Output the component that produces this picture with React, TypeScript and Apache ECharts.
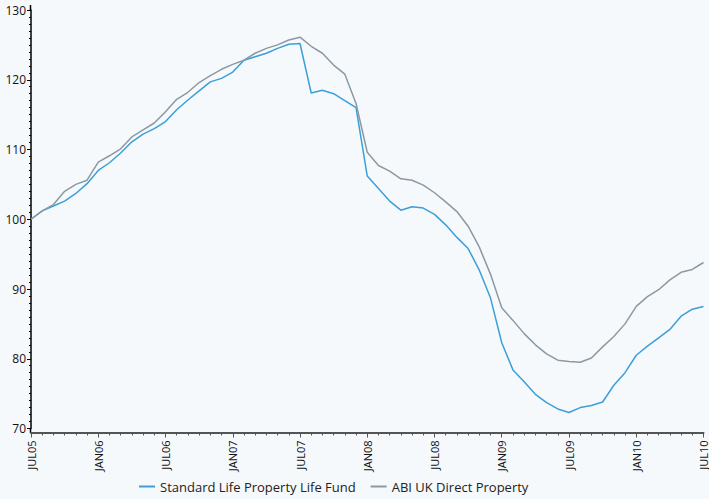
import React, { useEffect, useRef } from "react";
import * as echarts from "echarts";

const months = [
  "JUL05","AUG05","SEP05","OCT05","NOV05","DEC05",
  "JAN06","FEB06","MAR06","APR06","MAY06","JUN06",
  "JUL06","AUG06","SEP06","OCT06","NOV06","DEC06",
  "JAN07","FEB07","MAR07","APR07","MAY07","JUN07",
  "JUL07","AUG07","SEP07","OCT07","NOV07","DEC07",
  "JAN08","FEB08","MAR08","APR08","MAY08","JUN08",
  "JUL08","AUG08","SEP08","OCT08","NOV08","DEC08",
  "JAN09","FEB09","MAR09","APR09","MAY09","JUN09",
  "JUL09","AUG09","SEP09","OCT09","NOV09","DEC09",
  "JAN10","FEB10","MAR10","APR10","MAY10","JUN10",
  "JUL10",
];

const standardLife = [
  100, 101.2, 101.9, 102.6, 103.7, 105.1,
  107.0, 108.1, 109.5, 111.1, 112.2, 113.0,
  114.0, 115.7, 117.1, 118.4, 119.7, 120.2,
  121.1, 122.8, 123.3, 123.8, 124.5, 125.1,
  125.2, 118.1, 118.5, 118.0, 117.0, 116.0,
  106.2, 104.4, 102.6, 101.3, 101.8, 101.6,
  100.7, 99.2, 97.4, 95.8, 92.7, 88.7,
  82.3, 78.4, 76.7, 74.9, 73.7, 72.8,
  72.3, 73.0, 73.3, 73.8, 76.2, 78.0,
  80.5, 81.8, 83.0, 84.2, 86.1, 87.1,
  87.5,
];

const abiDirect = [
  100, 101.2, 102.1, 104.0, 105.0, 105.6,
  108.2, 109.1, 110.1, 111.8, 112.8, 113.8,
  115.4, 117.2, 118.2, 119.6, 120.6, 121.5,
  122.2, 122.8, 123.8, 124.5, 125.0, 125.7,
  126.1, 124.8, 123.8, 122.1, 120.8, 116.6,
  109.6, 107.7, 106.9, 105.8, 105.6, 104.9,
  103.8, 102.5, 101.1, 99.0, 96.0, 92.1,
  87.3, 85.5, 83.6, 82.0, 80.7, 79.8,
  79.6, 79.5, 80.1, 81.7, 83.2, 85.0,
  87.5, 88.9, 89.9, 91.3, 92.4, 92.8,
  93.8,
];

const seriesNames = ["Standard Life Property Life Fund", "ABI UK Direct Property"];
const yTicks = { min: 70, max: 130, interval: 10 };

export default function App() {
  const ref = useRef<HTMLDivElement>(null);

  useEffect(() => {
    document.body.style.margin = "0";
    document.body.style.background = "#f5f9fc";
    if (!ref.current) return;
    const chart = echarts.init(ref.current, undefined, { renderer: "svg" });
    const font = "'Open Sans', 'Noto Sans', sans-serif";
    chart.setOption({
      animation: false,
      backgroundColor: "#f5f9fc",
      grid: { left: 31, right: -1, top: 10, bottom: 70.5, containLabel: false },
      legend: {
        bottom: 1,
        left: 134,
        itemWidth: 16,
        itemHeight: 2,
        itemGap: 15,
        icon: "rect",
        textStyle: { fontFamily: font, fontSize: 13, color: "#222" },
        data: seriesNames,
      },
      xAxis: [
        {
          type: "category",
          data: months,
          boundaryGap: false,
          offset: 4,
          axisLine: { show: true, lineStyle: { color: "#555", width: 2 } },
          axisTick: { show: true, interval: 0, length: 3, lineStyle: { color: "#555" } },
          axisLabel: {
            interval: 5,
            rotate: 90,
            margin: 8,
            fontFamily: font,
            fontSize: 11,
            color: "#111",
          },
          splitLine: { show: false },
        },
        {
          type: "category",
          data: months,
          boundaryGap: false,
          offset: 4,
          position: "bottom",
          axisLine: { show: false },
          axisTick: { show: true, interval: 5, length: 5, lineStyle: { color: "#555" } },
          axisLabel: { show: false },
          splitLine: { show: false },
        },
      ],
      yAxis: {
        type: "value",
        min: yTicks.min,
        max: yTicks.max,
        interval: yTicks.interval,
        axisLine: { show: true, lineStyle: { color: "#000", width: 1.5 } },
        axisTick: { show: true, length: 4, lineStyle: { color: "#000" } },
        minorTick: { show: true, splitNumber: 10, length: 2, lineStyle: { color: "#000" } },
        axisLabel: { margin: 5, fontFamily: font, fontSize: 12, color: "#111" },
        splitLine: { show: false },
      },
      graphic: [
        { type: "line", shape: { x1: 30.5, y1: 5, x2: 30.5, y2: 10 }, style: { stroke: "#000", lineWidth: 1.5 } },
        { type: "line", shape: { x1: 30.5, y1: 428.5, x2: 30.5, y2: 433 }, style: { stroke: "#000", lineWidth: 1.5 } },
      ],
      series: [
        {
          name: seriesNames[0],
          type: "line",
          data: standardLife,
          symbol: "none",
          lineStyle: { color: "#3b9fd9", width: 1.5 },
          itemStyle: { color: "#3b9fd9" },
        },
        {
          name: seriesNames[1],
          type: "line",
          data: abiDirect,
          symbol: "none",
          lineStyle: { color: "#8c99a3", width: 1.5 },
          itemStyle: { color: "#8c99a3" },
        },
      ],
    });
    return () => chart.dispose();
  }, []);

  return <div ref={ref} style={{ width: 709, height: 499, background: "#f5f9fc" }} />;
}
